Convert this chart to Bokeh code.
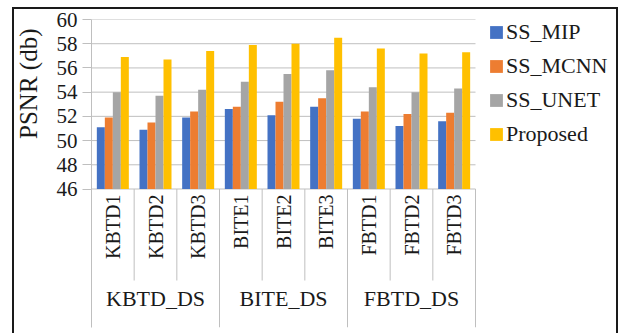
import numpy as np
from bokeh.plotting import figure
from bokeh.models import (ColumnDataSource, Range1d, FixedTicker, Legend,
                          LegendItem, Title)
from bokeh.core.properties import value
from bokeh.embed import file_html
from bokeh.resources import INLINE

# ---- data -------------------------------------------------------------
groups = ["KBTD_DS", "BITE_DS", "FBTD_DS"]
categories = ["KBTD1", "KBTD2", "KBTD3",
              "BITE1", "BITE2", "BITE3",
              "FBTD1", "FBTD2", "FBTD3"]
series_names = ["SS_MIP", "SS_MCNN", "SS_UNET", "Proposed"]
ss_mip = [51.1, 50.9, 51.9, 52.6, 52.1, 52.8, 51.8, 51.2, 51.6]
ss_mcnn = [51.9, 51.5, 52.4, 52.8, 53.2, 53.5, 52.4, 52.2, 52.3]
ss_unet = [54.0, 53.7, 54.2, 54.85, 55.5, 55.8, 54.4, 54.0, 54.3]
proposed = [56.9, 56.7, 57.4, 57.9, 58.0, 58.5, 57.6, 57.2, 57.3]
y_ticks = [46, 48, 50, 52, 54, 56, 58, 60]

# ---- layout -----------------------------------------------------------
W, H = 619, 333
FRAME_L, FRAME_R, FRAME_T, FRAME_B = 91, 615, 19, 327
PLOT_R = 475                         # right edge of the category area
AXIS_PX = 188.5                      # pixel row of the value axis base
Y_LO, Y_HI = y_ticks[0], y_ticks[-1]
PX_PER_Y = (AXIS_PX - FRAME_T) / (Y_HI - Y_LO)
N = len(categories)
PX_PER_X = (PLOT_R - FRAME_L) / N


def y_at(px):
    return Y_HI - (px - FRAME_T) / PX_PER_Y


def x_at(px):
    return (px - FRAME_L) / PX_PER_X


FONT = "Liberation Serif"
GRID = "#BFBFBF"
INK = "#1a1a1a"
colors = ["#4472C4", "#ED7D31", "#A5A5A5", "#FFC000"]

p = figure(width=W, height=H, output_backend="svg", toolbar_location=None,
           x_range=Range1d(0, x_at(FRAME_R)),
           y_range=Range1d(y_at(FRAME_B), Y_HI),
           x_axis_location=None,
           min_border_left=FRAME_L, min_border_right=W - FRAME_R,
           min_border_top=FRAME_T, min_border_bottom=H - FRAME_B)
p.outline_line_color = None
p.background_fill_color = "white"
p.border_fill_color = None

# dark box edges (top, left, right) around the chart, painted behind the canvas
bar = f"linear-gradient({INK},{INK})"
p.styles = {
    "background-color": "white",
    "background-image": ", ".join([bar] * 3),
    "background-size": "606px 2px, 2px 326px, 2px 326px",
    "background-position": "12px 7px, 12px 7px, 616px 7px",
    "background-repeat": "no-repeat",
}

# value axis
ax = p.yaxis[0]
ax.ticker = FixedTicker(ticks=y_ticks)
ax.axis_line_color = GRID
ax.major_tick_line_color = GRID
ax.major_tick_out = 9
ax.major_tick_in = 0
ax.minor_tick_line_color = None
ax.major_label_standoff = 5
ax.major_label_text_font = FONT
ax.major_label_text_font_size = "21px"
ax.major_label_text_color = INK

# value axis title, placed beside the tick labels
p.add_layout(Title(text="PSNR (db)", align="right", offset=9, standoff=22,
                   vertical_align="middle",
                   text_font=FONT, text_font_size="25px",
                   text_font_style="normal", text_color=INK), "left")

# horizontal gridlines across the category area only
p.xgrid.visible = False
p.ygrid.visible = False
p.segment(x0=0, x1=N, y0=y_ticks, y1=y_ticks, line_color=GRID, line_width=1)

# bars
bar_w = 0.1875
series = [ss_mip, ss_mcnn, ss_unet, proposed]
centers = np.arange(N) + 0.5
items = []
for i, (name, vals) in enumerate(zip(series_names, series)):
    src = ColumnDataSource(dict(x=centers + (i - 1.5) * bar_w, top=vals))
    r = p.vbar(x="x", top="top", bottom=Y_LO, width=bar_w, source=src,
               fill_color=colors[i], line_color=None)
    items.append(LegendItem(label=name, renderers=[r]))

# category separators
inner_bottom = y_at(280)
group_size = N // len(groups)
b = np.arange(1, N + 1)
is_group_edge = (b % group_size) == 0
p.segment(x0=b, x1=b, y0=Y_LO,
          y1=np.where(is_group_edge, y_at(FRAME_B), inner_bottom),
          line_color=GRID, line_width=1)

# category labels (rotated) and group labels
p.text(x=centers, y=y_at(194), text=categories, angle=np.pi / 2,
       text_align="right", text_baseline="middle",
       text_font=value(FONT), text_font_size=value("20px"),
       text_color=INK)
group_x = np.arange(len(groups)) * group_size + group_size / 2
p.text(x=group_x, y=y_at(298), text=groups,
       text_align="center", text_baseline="middle",
       text_font=value(FONT), text_font_size=value("22px"),
       text_color=INK)

# legend inside the frame, right of the categories
legend = Legend(items=items, location=(488 - FRAME_L, FRAME_B - 147),
                orientation="vertical",
                glyph_width=16, glyph_height=16, label_standoff=2,
                spacing=8, padding=0, margin=0,
                label_text_font=FONT, label_text_font_size="22px",
                label_text_color=INK,
                border_line_color=None, background_fill_color=None)
p.add_layout(legend)

open("out.html", "w").write(file_html(p, INLINE))
